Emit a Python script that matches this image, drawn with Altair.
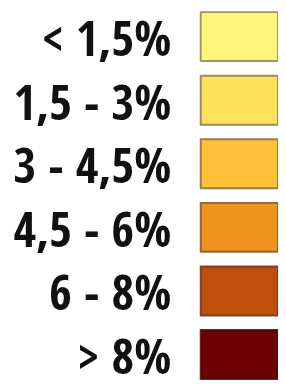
import altair as alt
import pandas as pd

labels = ["< 1,5%", "1,5 - 3%", "3 - 4,5%", "4,5 - 6%", "6 - 8%", "> 8%"]
colors = ["#FFF57C", "#FFE25C", "#FFC03A", "#EE931E", "#BE4F0C", "#6C0202"]
borders = ["#8C8456", "#8C7A46", "#8C6A36", "#7E5628", "#6A3414", "#4A0A0A"]

df = pd.DataFrame({"label": labels, "border": borders})

yscale = alt.Scale(domain=labels, paddingInner=0.23, paddingOuter=0, range=[-8, 367])
y = alt.Y("label:N", sort=labels, scale=yscale, axis=None)

rects = alt.Chart(df).mark_rect(strokeWidth=2, strokeOpacity=0.85).encode(
    y=y,
    x=alt.value(197),
    x2=alt.value(276),
    color=alt.Color("label:N", scale=alt.Scale(domain=labels, range=colors), legend=None),
    stroke=alt.Stroke("border:N", scale=None),
)

texts = alt.Chart(df).mark_text(
    align="right", baseline="middle", font="Open Sans Condensed",
    fontWeight="bold", fontSize=50, color="#111111", dy=5,
).encode(
    y=y,
    x=alt.value(167),
    text="label:N",
)

chart = alt.layer(rects, texts).properties(
    width=276, height=362,
    padding={"left": 0, "top": 8, "right": 0, "bottom": 10},
    autosize=alt.AutoSizeParams(type="none"),
).configure_view(stroke=None)

chart.save("out.html", embed_options={"renderer": "svg", "actions": False})
